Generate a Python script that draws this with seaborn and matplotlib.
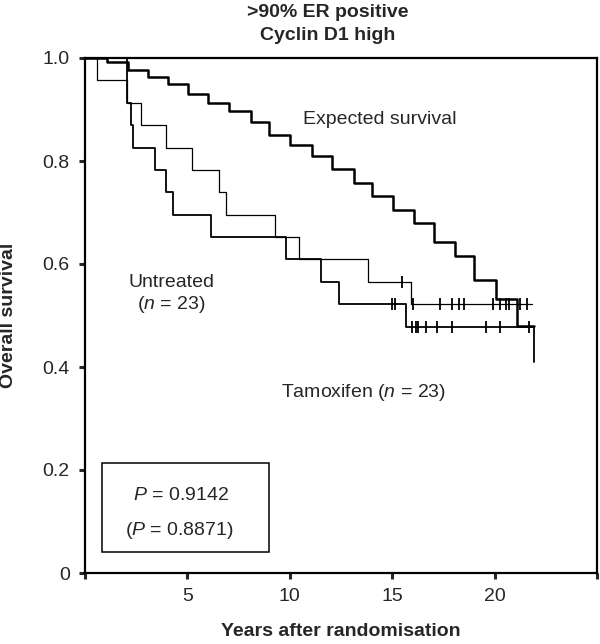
import numpy as np
import pandas as pd
import seaborn as sns
import matplotlib.pyplot as plt
from matplotlib.patches import Rectangle

# expected survival curve (years, survival)
exp_years = [0, 1.09, 2.12, 3.09, 4.07, 5.05, 6.02, 7.03, 8.09, 8.99, 10.01, 11.07,
             12.05, 13.14, 14.00, 15.06, 16.07, 17.02, 18.08, 18.97, 20.06, 21.09, 21.93]
exp_surv = [1.0, 0.993, 0.977, 0.964, 0.950, 0.930, 0.913, 0.897, 0.876, 0.850, 0.832, 0.810,
            0.784, 0.758, 0.733, 0.704, 0.680, 0.643, 0.616, 0.569, 0.533, 0.480, 0.480]

# untreated (thin line)
unt_years = [0, 0.60, 2.04, 2.72, 3.96, 5.24, 6.56, 6.87, 9.28, 10.47, 13.84, 15.93, 21.82]
unt_surv = [1.0, 0.957, 0.913, 0.870, 0.826, 0.783, 0.739, 0.696, 0.652, 0.609, 0.566, 0.522, 0.522]
unt_cens_years = [15.47, 16.04, 17.34, 17.91, 18.24, 18.53, 19.90, 20.24, 20.57, 20.70, 21.22, 21.58]
unt_cens_surv = [0.566, 0.522, 0.522, 0.522, 0.522, 0.522, 0.522, 0.522, 0.522, 0.522, 0.522, 0.522]

# tamoxifen (thicker line)
tam_years = [0, 2.04, 2.23, 2.33, 3.42, 3.96, 4.28, 6.14, 9.80, 11.53, 12.41, 15.68, 21.93]
tam_surv = [1.0, 0.913, 0.870, 0.826, 0.783, 0.739, 0.696, 0.652, 0.609, 0.566, 0.522, 0.478, 0.41]
tam_cens_years = [14.98, 15.14, 15.99, 16.15, 16.25, 16.64, 17.18, 17.91, 19.59, 20.24, 21.66]
tam_cens_surv = [0.522, 0.522, 0.478, 0.478, 0.478, 0.478, 0.478, 0.478, 0.478, 0.478, 0.478]

x_ticks = [0, 5, 10, 15, 20, 25]
x_ticklabels = ["", "5", "10", "15", "20", ""]
y_ticks = [0, 0.2, 0.4, 0.6, 0.8, 1.0]
y_ticklabels = ["0", "0.2", "0.4", "0.6", "0.8", "1.0"]

sns.set_style("ticks")
plt.rcParams['font.family'] = ['Liberation Sans', 'DejaVu Sans']
plt.rcParams['mathtext.fontset'] = 'custom'
plt.rcParams['mathtext.it'] = 'Liberation Sans:italic'
plt.rcParams['mathtext.rm'] = 'Liberation Sans'

fig = plt.figure(figsize=(6, 6.44), dpi=100)
ax = fig.add_axes([85/600, 1 - 573/644, 512/600, 515/644])

exp_df = pd.DataFrame({"years": exp_years, "surv": exp_surv})
unt_df = pd.DataFrame({"years": unt_years, "surv": unt_surv})
tam_df = pd.DataFrame({"years": tam_years, "surv": tam_surv})

sns.lineplot(data=exp_df, x="years", y="surv", ax=ax, color="black", lw=1.8,
             drawstyle="steps-post", estimator=None, sort=False)
sns.lineplot(data=unt_df, x="years", y="surv", ax=ax, color="black", lw=0.9,
             drawstyle="steps-post", estimator=None, sort=False)
sns.lineplot(data=tam_df, x="years", y="surv", ax=ax, color="black", lw=1.3,
             drawstyle="steps-post", estimator=None, sort=False)

# censoring ticks
sns.scatterplot(x=unt_cens_years, y=unt_cens_surv, ax=ax, marker="|", s=70,
                color="black", linewidth=1.3)
sns.scatterplot(x=tam_cens_years, y=tam_cens_surv, ax=ax, marker="|", s=70,
                color="black", linewidth=1.3)

ax.set_xlim(0, 25)
ax.set_ylim(0, 1.0)
ax.set_xticks(x_ticks)
ax.set_xticklabels(x_ticklabels)
ax.set_yticks(y_ticks)
ax.set_yticklabels(y_ticklabels)
ax.tick_params(direction="out", length=4, width=2.2, labelsize=14, pad=7)
for s in ax.spines.values():
    s.set_linewidth(1.6)
    s.set_color("black")

ax.set_xlabel("Years after randomisation", fontsize=14, fontweight="bold", labelpad=13)
ax.set_ylabel("Overall survival", fontsize=14, fontweight="bold", labelpad=18)

ax.text(14.4, 0.88, "Expected survival", fontsize=14, ha="center", va="center")
ax.text(4.2, 0.54, "Untreated\n($n$ = 23)", fontsize=14, ha="center", va="center",
        linespacing=1.2)
ax.text(13.6, 0.35, "Tamoxifen ($n$ = 23)", fontsize=14, ha="center", va="center")

ax.add_patch(Rectangle((0.81, 0.041), 8.18, 0.173, fill=False, edgecolor="black", lw=1.1))
ax.text(4.7, 0.151, "$P$ = 0.9142", fontsize=14, ha="center", va="center")
ax.text(4.6, 0.083, "($P$ = 0.8871)", fontsize=14, ha="center", va="center")

fig.text(328/600, 1 - 4/644, ">90% ER positive\nCyclin D1 high", fontsize=14,
         fontweight="bold", ha="center", va="top", linespacing=1.45)

fig.savefig("out.png", dpi=100)
